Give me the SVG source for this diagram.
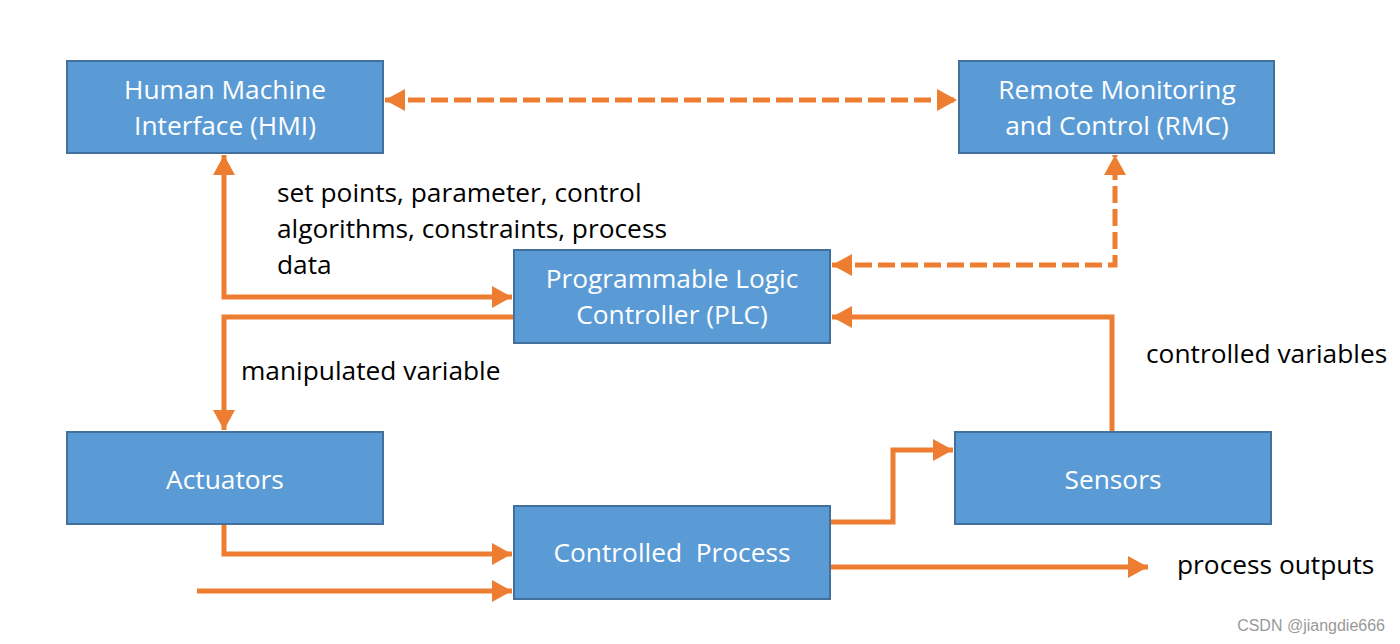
<svg xmlns="http://www.w3.org/2000/svg" width="1400" height="644" viewBox="0 0 1400 644">
<style>
.box{fill:#5B9BD5;stroke:#41719C;stroke-width:2}
.bt{fill:#fff;font-family:"Open Sans","Noto Sans",sans-serif;font-size:26.3px;text-anchor:middle}
.lt{fill:#000;font-family:"Open Sans","Noto Sans",sans-serif;font-size:26.3px}
.c{fill:none;stroke:#ED7D31;stroke-width:5}
.d{stroke-dasharray:17 6}
</style>
<defs>
<marker id="ah" markerUnits="userSpaceOnUse" markerWidth="22" markerHeight="22" refX="20" refY="11" orient="auto-start-reverse">
<path d="M0,0 L20,11 L0,22 z" fill="#ED7D31"/>
</marker>
</defs>
<rect width="1400" height="644" fill="#fff"/>
<g id="connectors">
<path class="c d" d="M385,100 L957,100" marker-start="url(#ah)" marker-end="url(#ah)"/>
<path class="c d" d="M832,265 L1115,265 L1115,155" marker-start="url(#ah)" marker-end="url(#ah)"/>
<path class="c" d="M224,155 L224,297 L512,297" marker-start="url(#ah)" marker-end="url(#ah)"/>
<path class="c" d="M514,317 L224,317 L224,430" marker-end="url(#ah)"/>
<path class="c" d="M1112,432 L1112,317 L832,317" marker-end="url(#ah)"/>
<path class="c" d="M224,524 L224,554 L512,554" marker-end="url(#ah)"/>
<path class="c" d="M197,591 L512,591" marker-end="url(#ah)"/>
<path class="c" d="M830,522 L893,522 L893,450 L953,450" marker-end="url(#ah)"/>
<path class="c" d="M830,567 L1148,567" marker-end="url(#ah)"/>
</g>
<g id="hmi"><rect class="box" x="67" y="61" width="316" height="92"/><text class="bt" x="225" y="99">Human Machine</text><text class="bt" x="225" y="135">Interface (HMI)</text></g>
<g id="rmc"><rect class="box" x="959" y="61" width="315" height="92"/><text class="bt" x="1117" y="99">Remote Monitoring</text><text class="bt" x="1117" y="135">and Control (RMC)</text></g>
<g id="plc"><rect class="box" x="514" y="250" width="316" height="93"/><text class="bt" x="672" y="288">Programmable Logic</text><text class="bt" x="672" y="324">Controller (PLC)</text></g>
<g id="actuators"><rect class="box" x="67" y="432" width="316" height="92"/><text class="bt" x="225" y="489">Actuators</text></g>
<g id="sensors"><rect class="box" x="955" y="432" width="316" height="92"/><text class="bt" x="1113" y="489">Sensors</text></g>
<g id="process"><rect class="box" x="514" y="506" width="316" height="93"/><text class="bt" x="672" y="562" xml:space="preserve">Controlled  Process</text></g>
<g id="labels">
<text class="lt" x="277" y="202">set points, parameter, control</text>
<text class="lt" x="277" y="238">algorithms, constraints, process</text>
<text class="lt" x="277" y="274">data</text>
<text class="lt" x="241" y="380">manipulated variable</text>
<text class="lt" x="1146" y="363">controlled variables</text>
<text class="lt" x="1177" y="574">process outputs</text>
<text x="1385" y="631" text-anchor="end" fill="#999" font-family="Liberation Sans,sans-serif" font-size="16">CSDN @jiangdie666</text>
</g>
</svg>
